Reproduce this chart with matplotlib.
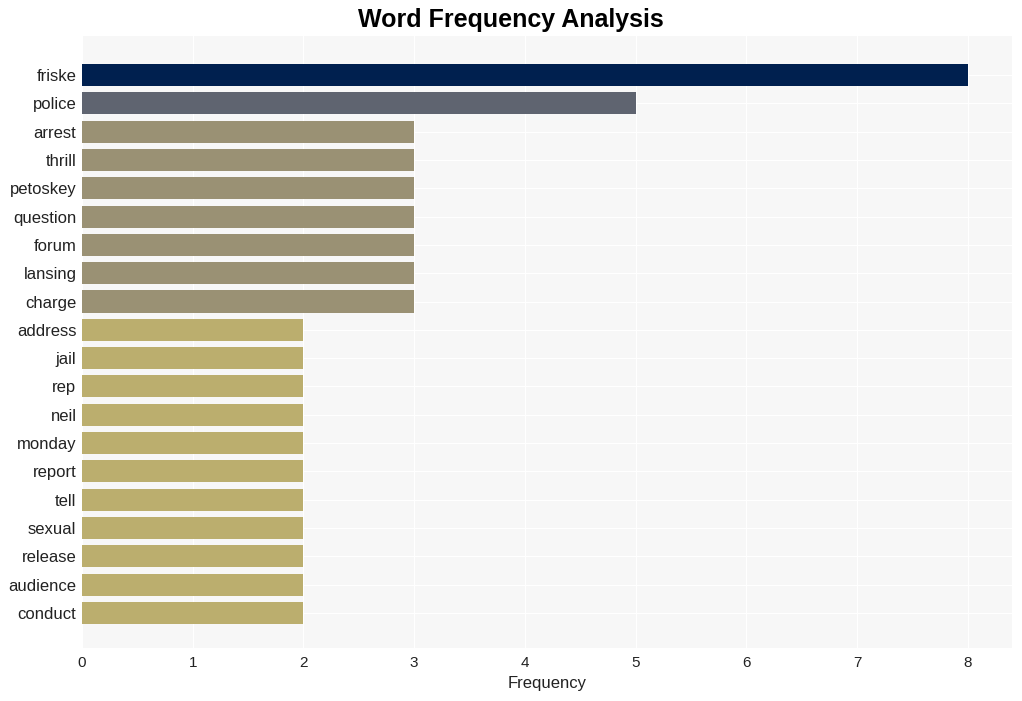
import matplotlib.pyplot as plt

plt.rcParams["font.family"] = ["Liberation Sans", "DejaVu Sans"]

words = ["friske", "police", "arrest", "thrill", "petoskey", "question", "forum",
         "lansing", "charge", "address", "jail", "rep", "neil", "monday", "report",
         "tell", "sexual", "release", "audience", "conduct"]
counts = [8, 5, 3, 3, 3, 3, 3, 3, 3, 2, 2, 2, 2, 2, 2, 2, 2, 2, 2, 2]

color_by_count = {8: "#00204f", 5: "#5f6470", 3: "#9a9174", 2: "#bbae6e"}
colors = [color_by_count[c] for c in counts]

fig = plt.figure(figsize=(10.22, 7.01), dpi=100)
ax = fig.add_axes([82 / 1022, 1 - 648 / 701, 930 / 1022, 612 / 701])
ax.set_facecolor("#f7f7f7")

ypos = list(range(len(words)))
ax.barh(ypos, counts, height=0.78, color=colors, zorder=2)

ax.set_yticks(ypos)
ax.set_yticklabels(words, fontsize=12, color="#222222")
ax.set_ylim(len(words) - 1 + 1.24, -1.38)
ax.set_xlim(0, 8.4)
ax.set_xticks(range(9))
ax.tick_params(axis="x", labelsize=11, colors="#222222", length=0, pad=6)
ax.tick_params(axis="y", length=0, pad=4)

ax.grid(True, color="white", linewidth=0.8, zorder=0)
ax.set_axisbelow(True)
for s in ax.spines.values():
    s.set_visible(False)

ax.set_xlabel("Frequency", fontsize=12, color="#222222", labelpad=4)
fig.suptitle("Word Frequency Analysis", fontsize=18, fontweight="bold", y=0.988)

fig.savefig("out.png", dpi=100)
